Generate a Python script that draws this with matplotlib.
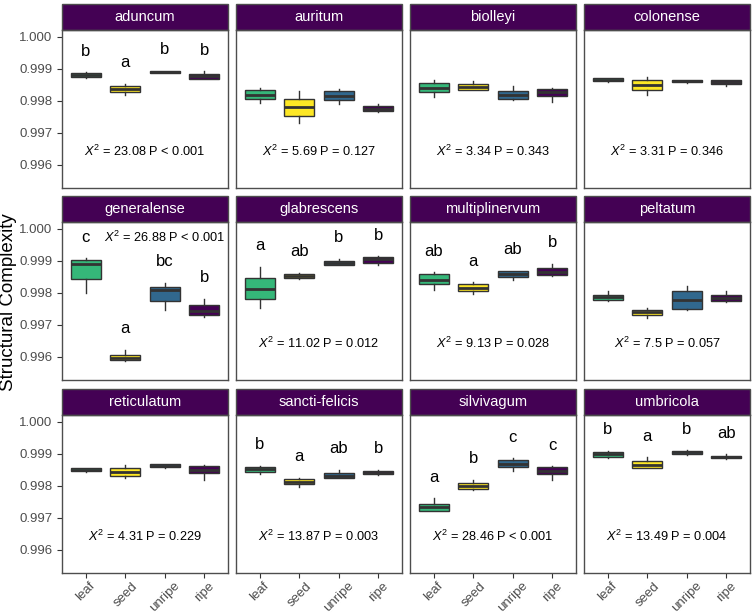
import matplotlib
matplotlib.use("Agg")
import matplotlib.pyplot as plt
from matplotlib.patches import Rectangle

plt.rcParams['font.family'] = ['Liberation Sans', 'DejaVu Sans']
plt.rcParams['mathtext.fontset'] = 'custom'
plt.rcParams['mathtext.rm'] = 'Liberation Sans'
plt.rcParams['mathtext.it'] = 'Liberation Sans:italic'

categories = ['leaf', 'seed', 'unripe', 'ripe']
species = ['aduncum', 'auritum', 'biolleyi', 'colonense',
           'generalense', 'glabrescens', 'multiplinervum', 'peltatum',
           'reticulatum', 'sancti-felicis', 'silvivagum', 'umbricola']

# box statistics per species, one value per category (leaf, seed, unripe, ripe)
medians = [
    [0.99881, 0.99835, 0.99890, 0.99876],
    [0.99819, 0.99779, 0.99816, 0.99775],
    [0.99840, 0.99843, 0.99817, 0.99828],
    [0.99866, 0.99849, 0.99861, 0.99859],
    [0.99889, 0.99596, 0.99807, 0.99742],
    [0.99812, 0.99852, 0.99894, 0.99904],
    [0.99841, 0.99815, 0.99859, 0.99865],
    [0.99786, 0.99739, 0.99778, 0.99784],
    [0.99850, 0.99842, 0.99863, 0.99850],
    [0.99852, 0.99813, 0.99831, 0.99840],
    [0.99732, 0.99800, 0.99867, 0.99846],
    [0.99898, 0.99866, 0.99904, 0.99890],
]
q1 = [
    [0.99875, 0.99826, 0.99888, 0.99867],
    [0.99806, 0.99753, 0.99803, 0.99768],
    [0.99826, 0.99833, 0.99805, 0.99814],
    [0.99861, 0.99833, 0.99857, 0.99853],
    [0.99843, 0.99588, 0.99773, 0.99731],
    [0.99781, 0.99845, 0.99886, 0.99894],
    [0.99826, 0.99805, 0.99850, 0.99854],
    [0.99777, 0.99731, 0.99748, 0.99773],
    [0.99845, 0.99831, 0.99858, 0.99839],
    [0.99844, 0.99805, 0.99825, 0.99835],
    [0.99722, 0.99790, 0.99858, 0.99835],
    [0.99891, 0.99856, 0.99900, 0.99885],
]
q3 = [
    [0.99887, 0.99845, 0.99893, 0.99883],
    [0.99833, 0.99805, 0.99830, 0.99783],
    [0.99854, 0.99852, 0.99831, 0.99838],
    [0.99870, 0.99864, 0.99864, 0.99864],
    [0.99902, 0.99606, 0.99819, 0.99760],
    [0.99847, 0.99857, 0.99900, 0.99911],
    [0.99857, 0.99827, 0.99867, 0.99876],
    [0.99793, 0.99747, 0.99806, 0.99793],
    [0.99854, 0.99854, 0.99867, 0.99862],
    [0.99858, 0.99822, 0.99841, 0.99845],
    [0.99743, 0.99808, 0.99881, 0.99857],
    [0.99904, 0.99876, 0.99908, 0.99894],
]
whisker_lo = [
    [0.99872, 0.99817, 0.99886, 0.99867],
    [0.99794, 0.99731, 0.99791, 0.99766],
    [0.99811, 0.99832, 0.99803, 0.99795],
    [0.99859, 0.99817, 0.99855, 0.99847],
    [0.99798, 0.99587, 0.99745, 0.99723],
    [0.99751, 0.99843, 0.99885, 0.99885],
    [0.99809, 0.99795, 0.99841, 0.99851],
    [0.99774, 0.99720, 0.99745, 0.99770],
    [0.99843, 0.99823, 0.99856, 0.99819],
    [0.99836, 0.99795, 0.99824, 0.99833],
    [0.99721, 0.99785, 0.99845, 0.99819],
    [0.99887, 0.99855, 0.99897, 0.99883],
]
whisker_hi = [
    [0.99889, 0.99852, 0.99894, 0.99892],
    [0.99841, 0.99831, 0.99838, 0.99789],
    [0.99864, 0.99861, 0.99845, 0.99840],
    [0.99872, 0.99875, 0.99865, 0.99865],
    [0.99908, 0.99621, 0.99830, 0.99781],
    [0.99880, 0.99862, 0.99906, 0.99914],
    [0.99864, 0.99833, 0.99869, 0.99891],
    [0.99804, 0.99751, 0.99820, 0.99805],
    [0.99856, 0.99865, 0.99869, 0.99865],
    [0.99862, 0.99824, 0.99850, 0.99850],
    [0.99760, 0.99819, 0.99885, 0.99861],
    [0.99909, 0.99889, 0.99911, 0.99898],
]
letters = [
    ['b', 'a', 'b', 'b'], None, None, None,
    ['c', 'a', 'bc', 'b'], ['a', 'ab', 'b', 'b'], ['ab', 'a', 'ab', 'b'], None,
    None, ['b', 'a', 'ab', 'b'], ['a', 'b', 'c', 'c'], ['b', 'a', 'b', 'ab'],
]
chi2 = ['23.08', '5.69', '3.34', '3.31', '26.88', '11.02', '9.13', '7.5',
        '4.31', '13.87', '28.46', '13.49']
pvals = ['< 0.001', '= 0.127', '= 0.343', '= 0.346', '< 0.001', '= 0.012',
         '= 0.028', '= 0.057', '= 0.229', '= 0.003', '< 0.001', '= 0.004']

colors = ['#35B779', '#FDE725', '#31688E', '#440154']
strip_color = '#440154'
edge = '#333333'

W, H = 753, 615
fig = plt.figure(figsize=(W / 100, H / 100), dpi=100)

col_left = [62, 236, 410, 584]
row_top = [30, 222, 415]
panel_w, panel_h = 166, 158
strip_h = 26

for i, name in enumerate(species):
    r, c = divmod(i, 4)
    ax = fig.add_axes([col_left[c] / W, 1 - (row_top[r] + panel_h) / H,
                       panel_w / W, panel_h / H])
    stats = []
    for j in range(4):
        stats.append(dict(med=medians[i][j], q1=q1[i][j], q3=q3[i][j],
                          whislo=whisker_lo[i][j], whishi=whisker_hi[i][j]))
    bp = ax.bxp(stats, positions=[1, 2, 3, 4], widths=0.76, patch_artist=True,
                showcaps=False, showfliers=False,
                boxprops=dict(edgecolor=edge, linewidth=1.0),
                medianprops=dict(color=edge, linewidth=2.0),
                whiskerprops=dict(color=edge, linewidth=1.0))
    for patch, col in zip(bp['boxes'], colors):
        patch.set_facecolor(col)

    if letters[i] is not None:
        for j, lab in enumerate(letters[i]):
            ax.text(j + 1, whisker_hi[i][j] + 0.00066, lab, ha='center',
                    va='center', fontsize=12, color='black')

    label = r'$X^2$' + ' = ' + chi2[i] + ' P ' + pvals[i]
    if name == 'generalense':
        ax.text(3.0, 0.99972, label, ha='center', va='center', fontsize=9.2)
    else:
        ax.text(2.5, 0.99640, label, ha='center', va='center', fontsize=9.2)

    ax.set_xlim(0.4, 4.6)
    ax.set_ylim(0.99527, 1.00021)
    ax.set_yticks([0.996, 0.997, 0.998, 0.999, 1.000])
    ax.set_xticks([1, 2, 3, 4])
    for s in ax.spines.values():
        s.set_color('#4D4D4D')
        s.set_linewidth(1.0)
    ax.tick_params(colors='#333333', labelcolor='#4D4D4D', labelsize=9.5,
                   length=3.5, width=0.8)
    if c == 0:
        ax.set_yticklabels(['0.996', '0.997', '0.998', '0.999', '1.000'])
    else:
        ax.tick_params(axis='y', left=False, labelleft=False)
    if r == 2:
        ax.set_xticklabels(categories, rotation=45, ha='center', va='top',
                           fontsize=9.5)
        ax.tick_params(axis='x', pad=1.5)
    else:
        ax.tick_params(axis='x', bottom=False, labelbottom=False)

    # facet strip
    sh = strip_h / panel_h
    ax.add_patch(Rectangle((0, 1), 1, sh, transform=ax.transAxes,
                           facecolor=strip_color, edgecolor='#4D4D4D',
                           linewidth=1.0, clip_on=False))
    ax.text(0.5, 1 + sh / 2, name, transform=ax.transAxes, ha='center',
            va='center', color='white', fontsize=10.5)

fig.text(9 / W, 0.508, 'Structural Complexity', rotation=90, ha='center',
         va='center', fontsize=13.5)

fig.savefig('out.png', dpi=100)
